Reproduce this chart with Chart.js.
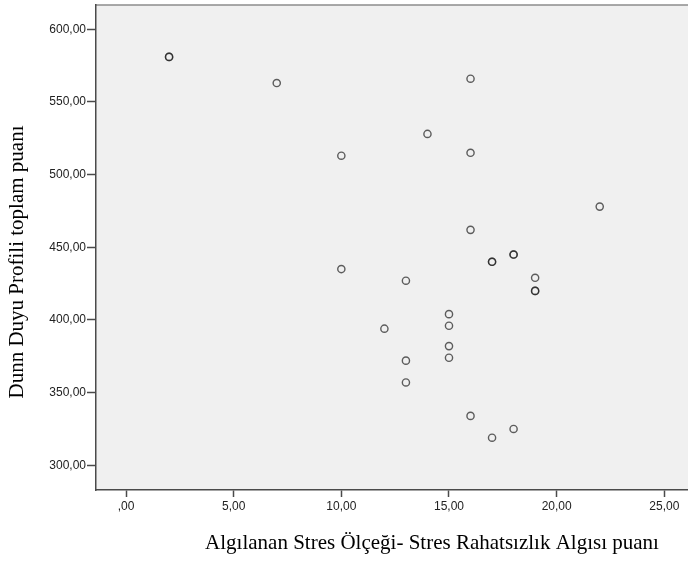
<!DOCTYPE html>
<html lang="tr">
<head>
<meta charset="UTF-8">
<title>Saçılım grafiği</title>
<style>
  html, body { margin: 0; padding: 0; background: #ffffff; }
  #wrap { position: relative; width: 688px; height: 563px; }
  canvas { display: block; }
</style>
</head>
<body>
<div id="wrap"><canvas id="c"></canvas></div>
<script src="https://cdnjs.cloudflare.com/ajax/libs/Chart.js/4.4.1/chart.umd.js"></script>
<script>
// stres rahatsizlik algisi puani (x) ve dunn duyu profili toplam puani (y)
const stresX = [2, 2, 7, 16, 14, 10, 16, 22, 16, 17, 17, 18, 18, 10, 13, 19, 19, 19, 15, 15, 12, 15, 15, 13, 13, 16, 18, 17];
const dunnY  = [581, 581, 563, 566, 528, 513, 515, 478, 462, 440, 440, 445, 445, 435, 427, 429, 420, 420, 404, 396, 394, 382, 374, 372, 357, 334, 325, 319];
const xTicks = [0, 5, 10, 15, 20, 25];
const yTicks = [300, 350, 400, 450, 500, 550, 600];
const xTitle = 'Algılanan Stres Ölçeği- Stres Rahatsızlık Algısı puanı';
const yTitle = 'Dunn Duyu Profili toplam puanı';

const fmt = v => {
  const s = Number(v).toFixed(2).replace('.', ',');
  return s.startsWith('0,') ? s.slice(1) : s;
};

const axisCol = '#4a4a4a';
const tickFont = { family: '"Liberation Sans", Arial, sans-serif', size: 12 };

const frame = {
  id: 'frame',
  beforeDraw(chart) {
    const { ctx, chartArea: a } = chart;
    ctx.save();
    ctx.fillStyle = '#f0f0f0';
    ctx.fillRect(a.left, a.top, a.right - a.left, a.bottom - a.top);
    ctx.strokeStyle = '#8c8c8c';
    ctx.lineWidth = 1.5;
    ctx.beginPath();
    ctx.moveTo(a.left, a.top);
    ctx.lineTo(a.right, a.top);
    ctx.stroke();
    ctx.restore();
  },
  afterDraw(chart) {
    const { ctx } = chart;
    ctx.save();
    ctx.fillStyle = '#000';
    ctx.font = '21px "Liberation Serif", "Times New Roman", serif';
    ctx.textAlign = 'center';
    ctx.textBaseline = 'middle';
    ctx.fillText(xTitle, 432, 543);
    ctx.translate(17, 262);
    ctx.rotate(-Math.PI / 2);
    ctx.fillText(yTitle, 0, 0);
    ctx.restore();
  }
};

new Chart(document.getElementById('c'), {
  type: 'scatter',
  data: {
    datasets: [{
      data: stresX.map((x, i) => ({ x, y: dunnY[i] })),
      backgroundColor: 'transparent',
      borderColor: 'rgba(35,35,35,0.72)',
      borderWidth: 1.4,
      pointRadius: 3.6,
      pointHoverRadius: 3.6
    }]
  },
  plugins: [frame],
  options: {
    responsive: true, maintainAspectRatio: false, animation: false,
    layout: { autoPadding: false, padding: { top: 5, right: 0, left: 0, bottom: 0 } },
    plugins: { legend: { display: false }, tooltip: { enabled: false } },
    scales: {
      x: {
        type: 'linear', min: -1.394, max: 26.1,
        afterBuildTicks: s => { s.ticks = xTicks.map(v => ({ value: v })); },
        afterFit: s => { s.height = 73; s.paddingLeft = 0; s.paddingRight = 0; },
        grid: { drawOnChartArea: false, drawTicks: true, tickLength: 7, tickColor: axisCol, tickWidth: 1.5 },
        border: { display: true, color: axisCol, width: 1.5 },
        ticks: { color: '#222', font: tickFont, padding: 2, callback: v => fmt(v), maxRotation: 0 }
      },
      y: {
        type: 'linear', min: 283, max: 616.7,
        afterBuildTicks: s => { s.ticks = yTicks.map(v => ({ value: v })); },
        afterFit: s => { s.width = 96; s.paddingTop = 0; s.paddingBottom = 0; },
        grid: { drawOnChartArea: false, drawTicks: true, tickLength: 9, tickColor: axisCol, tickWidth: 1.5 },
        border: { display: true, color: axisCol, width: 1.5 },
        ticks: { color: '#222', font: tickFont, padding: 1, callback: v => fmt(v) }
      }
    }
  }
});
</script>
</body>
</html>
